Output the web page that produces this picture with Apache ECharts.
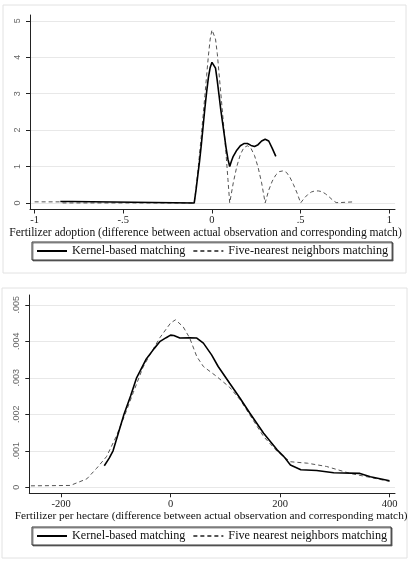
<!DOCTYPE html>
<html>
<head>
<meta charset="utf-8">
<script src="https://cdn.jsdelivr.net/npm/echarts@6/dist/echarts.min.js"></script>
<style>
  html, body { margin: 0; padding: 0; background: #fff; }
  #chart { width: 409px; height: 566px; }
</style>
</head>
<body>
<div id="chart"></div>
<script>
// top panel: fertilizer adoption
const topXTicks = [-1, -0.5, 0, 0.5, 1];
const topYTicks = [0, 1, 2, 3, 4, 5];
const topKernel = [
  [-0.855, 0.04], [-0.79, 0.04], [-0.78, 0], [-0.1, 0],
  [-0.09, 0.35], [-0.08, 0.75], [-0.07, 1.15], [-0.06, 1.6], [-0.05, 2.1],
  [-0.04, 2.6], [-0.03, 3.05], [-0.02, 3.45], [-0.01, 3.72], [0, 3.86],
  [0.01, 3.87], [0.02, 3.7], [0.03, 3.35], [0.04, 2.95], [0.05, 2.55],
  [0.06, 2.2], [0.07, 1.85], [0.08, 1.5], [0.09, 1.2], [0.1, 1.0],
  [0.11, 1.15], [0.12, 1.28], [0.14, 1.45], [0.16, 1.57], [0.18, 1.63],
  [0.2, 1.63], [0.22, 1.58], [0.24, 1.55], [0.26, 1.6], [0.28, 1.7],
  [0.3, 1.75], [0.32, 1.7], [0.34, 1.5], [0.36, 1.28]
];
const topNearest = [
  [-1, 0.03], [-0.86, 0.03], [-0.84, 0], [-0.1, 0],
  [-0.09, 0.4], [-0.08, 0.85], [-0.07, 1.35], [-0.06, 1.85], [-0.05, 2.4],
  [-0.04, 2.95], [-0.03, 3.5], [-0.02, 4.05], [-0.01, 4.5], [0, 4.75],
  [0.01, 4.72], [0.02, 4.5], [0.03, 4.1], [0.04, 3.55], [0.05, 3.0],
  [0.06, 2.45], [0.07, 1.9], [0.08, 1.3], [0.09, 0.65], [0.1, 0],
  [0.12, 0.55], [0.14, 1.0], [0.16, 1.33], [0.18, 1.52], [0.2, 1.57],
  [0.22, 1.5], [0.24, 1.3], [0.26, 0.98], [0.28, 0.55], [0.3, 0],
  [0.32, 0.35], [0.34, 0.6], [0.36, 0.77], [0.38, 0.86], [0.4, 0.88],
  [0.42, 0.84], [0.44, 0.7], [0.46, 0.5], [0.48, 0.27], [0.5, 0],
  [0.52, 0.13], [0.54, 0.23], [0.56, 0.3], [0.58, 0.33], [0.6, 0.33],
  [0.62, 0.31], [0.64, 0.25], [0.66, 0.17], [0.68, 0.08], [0.7, 0.01],
  [0.72, 0.01], [0.8, 0.03]
];

// bottom panel: fertilizer per hectare
const botXTicks = [-200, 0, 200, 400];
const botYTicks = [0, 0.001, 0.002, 0.003, 0.004, 0.005];
const botKernel = [
  [-121, 0.00059], [-112, 0.0008], [-105, 0.001], [-95, 0.0015], [-85, 0.002],
  [-73, 0.0025], [-62, 0.003], [-45, 0.0035], [-30, 0.0038], [-19, 0.004],
  [-8, 0.0041], [0, 0.00417], [6, 0.00416], [17, 0.00409], [35, 0.0041],
  [48, 0.00409], [60, 0.00395], [75, 0.00363], [87, 0.00331], [108, 0.00285],
  [127, 0.00244], [145, 0.00203], [170, 0.00148], [195, 0.00102], [207, 0.00084],
  [219, 0.00061], [238, 0.00048], [267, 0.00046], [298, 0.0004], [346, 0.00038],
  [365, 0.00029], [400, 0.00018]
];
const botNearest = [
  [-255, 0.00004], [-183, 0.00005], [-153, 0.00023], [-135, 0.00052],
  [-117, 0.00084], [-99, 0.0014], [-83, 0.002], [-68, 0.0026], [-50, 0.0033],
  [-35, 0.0037], [-19.5, 0.0041], [0, 0.0045], [9, 0.00459], [23, 0.0044],
  [35, 0.00409], [48, 0.00358], [60, 0.00331], [84, 0.00304], [108, 0.00274],
  [127, 0.0024], [145, 0.00198], [170, 0.00139], [195, 0.00098], [219, 0.0007],
  [250, 0.00066], [285, 0.00057], [328, 0.00038], [365, 0.00027], [400, 0.00016]
];

const serif = 'Liberation Serif';
const sans = 'Liberation Sans';
const dropZero = v => String(v).replace('0.', '.');

function xAxis(idx, min, max, ticks, name, gap, size, shift) {
  return {
    type: 'value', gridIndex: idx, min: min, max: max,
    name: name, nameLocation: 'middle', nameGap: gap,
    nameTextStyle: { fontFamily: serif, fontSize: size, color: '#111', padding: [0, shift, 0, 0] },
    axisLine: { onZero: false, lineStyle: { color: '#222', width: 1 } },
    axisTick: { customValues: ticks, length: 4, lineStyle: { color: '#222' } },
    axisLabel: { customValues: ticks, margin: 5, fontFamily: serif, fontSize: 10.5, color: '#222',
      formatter: dropZero },
    splitLine: { show: false }
  };
}
function yAxis(idx, min, max, ticks) {
  return {
    type: 'value', gridIndex: idx, min: min, max: max,
    axisLine: { show: true, onZero: false, lineStyle: { color: '#222', width: 1 } },
    axisTick: { show: true, customValues: ticks, length: 4, lineStyle: { color: '#222' } },
    axisLabel: { customValues: ticks, rotate: 90, margin: 8, fontFamily: sans, fontSize: 9,
      color: '#666', formatter: dropZero },
    splitLine: { show: true, lineStyle: { color: '#e8e8e8', width: 1 } }
  };
}
function legend(top, names) {
  return {
    data: names, top: top, left: 32,
    itemStyle: { opacity: 0 },
    orient: 'horizontal', itemWidth: 30, itemHeight: 10, itemGap: 7,
    padding: [3, 4], borderColor: '#333', borderWidth: 1,
    shadowColor: 'rgba(0,0,0,0.45)', shadowOffsetX: 1, shadowOffsetY: 1, shadowBlur: 0,
    backgroundColor: '#fff',
    textStyle: { fontFamily: serif, fontSize: 12.2, color: '#111' }
  };
}
const solid = { color: '#000', width: 1.6, type: 'solid' };
const dashed = { color: '#555', width: 1, type: [4, 3] };

const chart = echarts.init(document.getElementById('chart'));
chart.setOption({
  animation: false,
  backgroundColor: '#fff',
  graphic: [
    { type: 'rect', shape: { x: 3, y: 5, width: 403, height: 268 }, style: { fill: 'none', stroke: '#e2e2e2', lineWidth: 1 } },
    { type: 'rect', shape: { x: 2, y: 288, width: 405, height: 270 }, style: { fill: 'none', stroke: '#e2e2e2', lineWidth: 1 } }
  ],
  grid: [
    { left: 30, right: 14, top: 15, height: 194.5, outerBoundsMode: 'none' },
    { left: 29.3, right: 14, top: 295, height: 198.3, outerBoundsMode: 'none' }
  ],
  xAxis: [
    xAxis(0, -1.026, 1.032, topXTicks, 'Fertilizer adoption (difference between actual observation and corresponding match)', 17, 11.6, 14),
    xAxis(1, -258, 410, botXTicks, 'Fertilizer per hectare (difference between actual observation and corresponding match)', 16, 11.3, 2)
  ],
  yAxis: [
    yAxis(0, -0.18, 5.16, topYTicks),
    yAxis(1, -0.000165, 0.00527, botYTicks)
  ],
  legend: [
    legend(242, ['Kernel-based matching', 'Five-nearest neighbors matching']),
    legend(527, ['Kernel-based matching', 'Five nearest neighbors matching'])
  ],
  series: [
    { name: 'Five-nearest neighbors matching', type: 'line', xAxisIndex: 0, yAxisIndex: 0,
      data: topNearest, symbol: 'none', lineStyle: dashed, itemStyle: { color: '#555' } },
    { name: 'Kernel-based matching', type: 'line', xAxisIndex: 0, yAxisIndex: 0,
      data: topKernel, symbol: 'none', lineStyle: solid, itemStyle: { color: '#000' } },
    { name: 'Five nearest neighbors matching', type: 'line', xAxisIndex: 1, yAxisIndex: 1,
      data: botNearest, symbol: 'none', lineStyle: dashed, itemStyle: { color: '#555' } },
    { name: 'Kernel-based matching', type: 'line', xAxisIndex: 1, yAxisIndex: 1,
      data: botKernel, symbol: 'none', lineStyle: solid, itemStyle: { color: '#000' } }
  ]
});
</script>
</body>
</html>
